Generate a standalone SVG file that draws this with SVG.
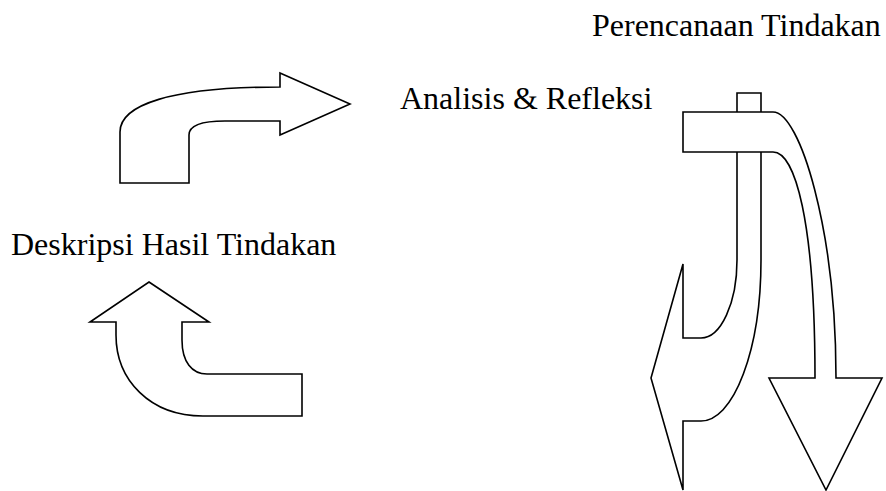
<svg xmlns="http://www.w3.org/2000/svg" width="886" height="491" viewBox="0 0 886 491">
<style>
.s{fill:#fff;stroke:#000;stroke-width:1.6;stroke-linejoin:miter}
.t{font-family:"Liberation Serif","Times New Roman",serif;font-size:32px;fill:#000}
</style>
<rect width="886" height="491" fill="#fff"/>
<g id="label-perencanaan"><text class="t" x="592" y="36">Perencanaan Tindakan</text></g>
<g id="label-analisis"><text class="t" x="400" y="109" font-size="31.5">Analisis &amp; Refleksi</text></g>
<g id="label-deskripsi"><text class="t" x="11" y="255">Deskripsi Hasil Tindakan</text></g>
<g id="connectors">
<path id="arrow-top-left" class="s" d="M120,183 L120,132 C120,105 170,87 280,87 L280,73 L350,104 L280,135 L280,121 L225,121 C200,121 189,126 189,135 L189,183 Z"/>
<path id="arrow-bottom-left" class="s" d="M149,282 L209,322 L182,322 L182,340 C182,362 192,374 207,374 L302,374 L302,416 L203,416 C150,416 116,380 116,335 L116,322 L90,322 Z"/>
<path id="arrow-right-left" class="s" d="M737,93 L761,93 L761,260 A60,161 0 0 1 701,421 L683,421 L683,490 L651,378 L683,264 L683,338 L701,338 A36,78 0 0 0 737,260 Z"/>
<path id="arrow-right-down" class="s" d="M683,112 L773,112 C800,112 836,230 836,378 L882,378 L826,490 L769,378 L815,378 C815,220 795,152 773,152 L683,152 Z"/>
</g>
</svg>
